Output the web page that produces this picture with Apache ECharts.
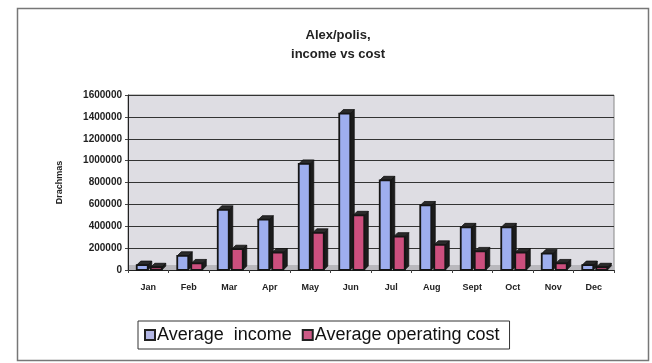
<!DOCTYPE html>
<html>
<head>
<meta charset="utf-8">
<script src="https://cdn.jsdelivr.net/npm/echarts@6/dist/echarts.min.js"></script>
<style>html,body{margin:0;padding:0;background:#fff}#c{width:652px;height:363px}</style>
</head>
<body>
<div id="c"></div>
<script>
const months = ['Jan','Feb','Mar','Apr','May','Jun','Jul','Aug','Sept','Oct','Nov','Dec'];
const income = [45000,130000,550000,460000,970000,1430000,820000,590000,390000,390000,150000,45000];
const cost = [25000,60000,190000,160000,340000,500000,305000,230000,170000,160000,60000,25000];
const yTicks = [0,200000,400000,600000,800000,1000000,1200000,1400000,1600000];

const chart = echarts.init(document.getElementById('c'), null, {renderer:'canvas'});

function bar3d(offset, color){
  return function(params, api){
    const c = api.coord([api.value(0), api.value(1)]);
    const b = api.coord([api.value(0), 0]);
    const w = 11, d = 4;
    const x0 = c[0] + offset, top = c[1], bot = b[1];
    return {type:'group', children:[
      {type:'polygon', shape:{points:[[x0+w,top],[x0+w+d,top-d],[x0+w+d,bot-d],[x0+w,bot]]}, style:{fill:'#1c1c1c', stroke:'#111', lineWidth:0.8}},
      {type:'polygon', shape:{points:[[x0,top],[x0+d,top-d],[x0+w+d,top-d],[x0+w,top]]}, style:{fill:'#2a2a2a', stroke:'#111', lineWidth:0.8}},
      {type:'rect', shape:{x:x0, y:top, width:w, height:bot-top}, style:{fill:color, stroke:'#151515', lineWidth:1.8}}
    ]};
  };
}
const incomeData = income.map((v,i)=>[i,v]);
const costData = cost.map((v,i)=>[i,v]);

chart.setOption({
  animation:false,
  backgroundColor:'#fff',
  title:{
    text:'Alex/polis,\nincome vs cost',
    left:333, textAlign:'center', top:21,
    textStyle:{fontFamily:'Arial, Liberation Sans', fontSize:13, fontWeight:'bold', color:'#222', lineHeight:19}
  },
  graphic:[
    {type:'rect', shape:{x:17.5,y:8.5,width:631,height:352}, style:{fill:'none', stroke:'#777', lineWidth:1.5}, z:-1},
    {type:'rect', shape:{x:129,y:265,width:485,height:5}, style:{fill:'#b9b8bd'}, z:1}
  ],
  legend:{
    data:['Average  income','Average operating cost'],
    left:138, top:321,
    borderColor:'#333', borderWidth:1, padding:[5,10,5,6],
    itemWidth:10, itemHeight:10, itemGap:10,
    icon:'rect',
    textStyle:{fontFamily:'Arial, Liberation Sans', fontSize:18, color:'#111', padding:[0,0,0,-3]}
  },
  grid:{left:128, right:38, top:95, bottom:93, show:true, backgroundColor:'#dedde3', borderColor:'#888', borderWidth:1},
  xAxis:{
    type:'category', data:months,
    axisLine:{lineStyle:{color:'#222', width:1}},
    axisTick:{show:true, length:3, lineStyle:{color:'#444'}},
    axisLabel:{fontFamily:'Arial, Liberation Sans', fontSize:9, fontWeight:'bold', color:'#222', margin:13}
  },
  yAxis:{
    type:'value', min:0, max:1600000, interval:200000,
    name:'Drachmas', nameLocation:'middle', nameGap:64,
    nameTextStyle:{fontFamily:'Arial, Liberation Sans', fontSize:9, fontWeight:'bold', color:'#222'},
    axisLine:{show:true, lineStyle:{color:'#222'}},
    axisTick:{show:true, length:3, lineStyle:{color:'#444'}},
    axisLabel:{fontFamily:'Arial, Liberation Sans', fontSize:10, fontWeight:'bold', color:'#222', margin:6,
      formatter:function(v){return yTicks.indexOf(v)>=0?String(v):'';}},
    splitLine:{lineStyle:{color:'#333', width:1}}
  },
  series:[
    {name:'Average  income', type:'custom', data:incomeData, encode:{x:0,y:1},
     renderItem:bar3d(-11.5,'#9eaeee'),
     itemStyle:{color:'#b4b8e6', borderColor:'#222', borderWidth:2}},
    {name:'Average operating cost', type:'custom', data:costData, encode:{x:0,y:1},
     renderItem:bar3d(2.5,'#cc4f7e'),
     itemStyle:{color:'#cc5a86', borderColor:'#222', borderWidth:2}}
  ]
});
</script>
</body>
</html>
